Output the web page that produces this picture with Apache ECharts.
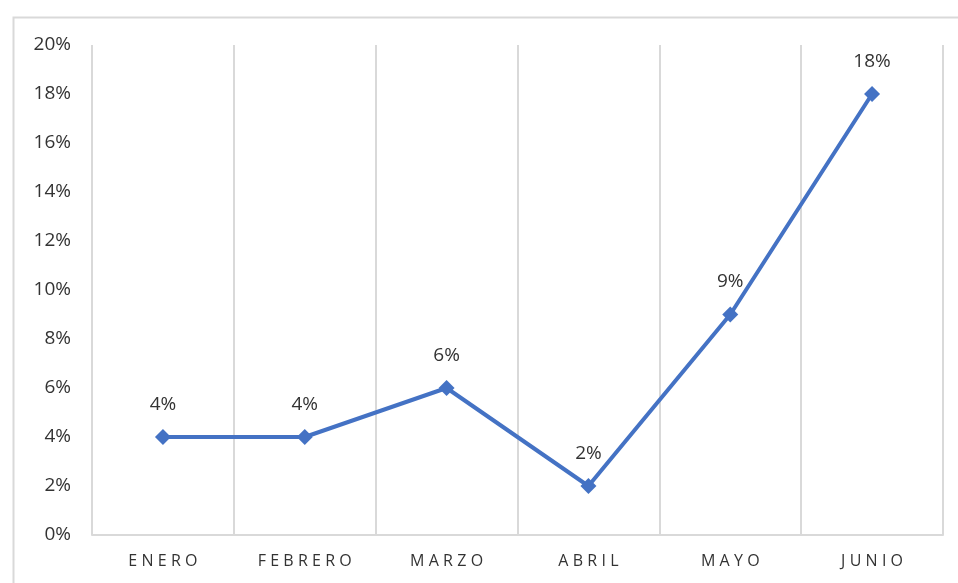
<!DOCTYPE html>
<html><head><meta charset="utf-8">
<script src="https://cdn.jsdelivr.net/npm/echarts@6/dist/echarts.min.js"></script>
<style>html,body{margin:0;padding:0;background:#fff;}#c{width:958px;height:583px;}</style>
</head><body><div id="c"></div>
<script>
const categories = ['ENERO','FEBRERO','MARZO','ABRIL','MAYO','JUNIO'];
const values = [4, 4, 6, 2, 9, 18];
const yTicks = [0, 2, 4, 6, 8, 10, 12, 14, 16, 18, 20];

const chart = echarts.init(document.getElementById('c'));
chart.setOption({
  animation: false,
  backgroundColor: '#fff',
  textStyle: { fontFamily: 'Open Sans, Liberation Sans, sans-serif' },
  graphic: [{
    type: 'rect', left: 11, top: 15, z: -1,
    shape: { width: 960, height: 580 },
    style: { fill: 'none', stroke: '#d9d9d9', lineWidth: 2 }
  }],
  grid: { left: 92, right: 15, top: 45, bottom: 48 },
  xAxis: {
    type: 'category', data: categories, boundaryGap: true,
    axisLine: { lineStyle: { color: '#d9d9d9', width: 2 } },
    axisTick: { show: false },
    axisLabel: {
      color: '#333333', fontSize: 16, margin: 18,
      formatter: v => v.split('').join('\u2009\u200A')
    },
    splitLine: { show: true, lineStyle: { color: '#d9d9d9', width: 2 } }
  },
  yAxis: {
    type: 'value', min: 0, max: 20, interval: 2,
    axisLine: { show: false }, axisTick: { show: false },
    splitLine: { show: false },
    axisLabel: { color: '#333333', fontSize: 19, margin: 21, formatter: v => v + '%' }
  },
  series: [{
    type: 'line', data: values,
    symbol: 'diamond', symbolSize: 16,
    lineStyle: { color: '#4472C4', width: 4 },
    itemStyle: { color: '#4472C4' },
    label: { show: true, position: 'top', distance: 15, color: '#333333', fontSize: 19, formatter: p => p.value + '%' }
  }]
});
</script></body></html>
